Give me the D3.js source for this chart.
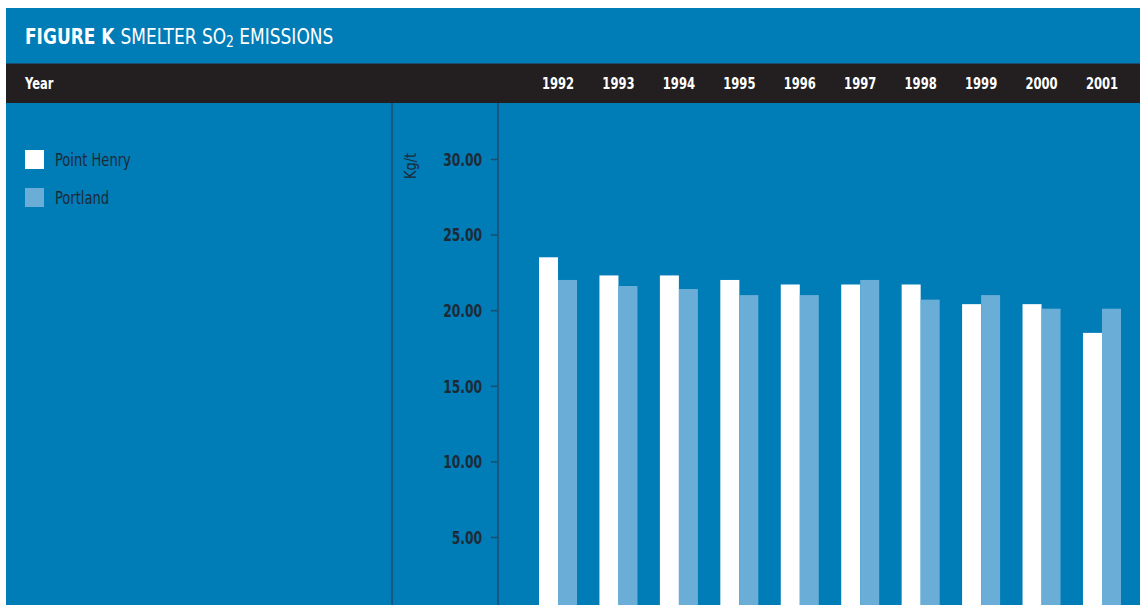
<!DOCTYPE html>
<html>
<head>
<meta charset="utf-8">
<script src="https://cdn.jsdelivr.net/npm/d3@7"></script>
<style>
  html, body { margin: 0; padding: 0; background: #ffffff; }
  svg { display: block; }
  text { font-family: "DejaVu Sans Condensed", "Liberation Sans Narrow", "Roboto", sans-serif; }
</style>
</head>
<body>
<svg id="chart" width="1140" height="605"></svg>
<script>
// Smelter SO2 emissions, kg per tonne of aluminium
const years = ["1992", "1993", "1994", "1995", "1996", "1997", "1998", "1999", "2000", "2001"];
const pointHenry = [23.5, 22.3, 22.3, 22.0, 21.7, 21.7, 21.7, 20.4, 20.4, 18.5];
const portland = [22.0, 21.6, 21.4, 21.0, 21.0, 22.0, 20.7, 21.0, 20.1, 20.1];
const seriesNames = ["Point Henry", "Portland"];
const yTicks = [5, 10, 15, 20, 25, 30];

const W = 1140, H = 605;
const colors = { bg: "#007cb7", head: "#231f20", ph: "#ffffff", pt: "#6aadd6", ink: "#1d2a36", rule: "#1b4d70" };

const svg = d3.select("#chart");

// place text at (px, py) and squeeze it horizontally to a condensed width
function placeNarrow(sel, px, py, s) {
  sel.attr("x", 0).attr("y", 0)
    .attr("transform", (d, i, n) => {
      const X = typeof px === "function" ? px(d, i, n) : px;
      const Y = typeof py === "function" ? py(d, i, n) : py;
      return `translate(${X},${Y}) scale(${s},1)`;
    });
  return sel;
}

// panel background
svg.append("rect").attr("x", 6).attr("y", 8).attr("width", W - 6).attr("height", H - 8).attr("fill", colors.bg);

// title
const title = svg.append("text").attr("fill", "#ffffff").attr("font-size", 22);
placeNarrow(title, 25, 44, 0.86);
title.append("tspan").attr("font-weight", "bold").text("FIGURE K ");
title.append("tspan").text("SMELTER SO");
title.append("tspan").attr("font-size", 16).attr("dy", 3).text("2");
title.append("tspan").attr("dy", -3).text(" EMISSIONS");

// year header band
svg.append("line").attr("x1", 6).attr("x2", W).attr("y1", 63.5).attr("y2", 63.5).attr("stroke", colors.rule).attr("stroke-width", 1);
svg.append("rect").attr("x", 6).attr("y", 64).attr("width", W - 6).attr("height", 39).attr("fill", colors.head);
placeNarrow(svg.append("text").attr("fill", "#ffffff").attr("font-size", 16).attr("font-weight", "bold").text("Year"), 25, 89, 0.8);

// scales
const x = d3.scaleBand().domain(years).range([527.8, 1132.2]).paddingInner(0.371).paddingOuter(0.1855);
const xs = d3.scaleBand().domain(seriesNames).range([0, x.bandwidth()]);
const y = d3.scaleLinear().domain([0, 30]).range([612.6, 159]);

// year labels inside the header band
const yearLabels = svg.append("g").selectAll("text").data(years).join("text")
  .attr("text-anchor", "middle")
  .attr("fill", "#ffffff")
  .attr("font-size", 15.5)
  .attr("font-weight", "bold")
  .text(d => d);
placeNarrow(yearLabels, d => x(d) + x.bandwidth() / 2, 89, 0.83);

// vertical rule between legend and axis
svg.append("line").attr("x1", 392).attr("x2", 392).attr("y1", 103).attr("y2", H).attr("stroke", colors.rule).attr("stroke-width", 1.5);

// y axis
const yAxis = d3.axisLeft(y).tickValues(yTicks).tickFormat(d3.format(".2f")).tickSize(7).tickPadding(8);
const gy = svg.append("g").attr("transform", "translate(498,0)").call(yAxis);
gy.select(".domain").remove();
gy.selectAll(".tick line").attr("stroke", colors.rule).attr("stroke-width", 1.5);
gy.selectAll(".tick text").attr("fill", colors.ink).attr("font-size", 17.5).attr("font-weight", "bold")
  .attr("font-family", "'DejaVu Sans Condensed', sans-serif")
  .attr("dy", "0.36em")
  .attr("x", 0)
  .attr("transform", "translate(-16,0) scale(0.78,1)");
svg.append("line").attr("x1", 498).attr("x2", 498).attr("y1", 103).attr("y2", H).attr("stroke", colors.rule).attr("stroke-width", 1.5);

// unit label
svg.append("text").attr("transform", "translate(416,166) rotate(-90) scale(0.9,1)").attr("text-anchor", "middle")
  .attr("fill", colors.ink).attr("font-size", 16).text("Kg/t");

// bars
const rows = years.map((yr, i) => ({ year: yr, values: [pointHenry[i], portland[i]] }));
const fills = [colors.ph, colors.pt];
svg.append("g").selectAll("g").data(rows).join("g")
  .attr("transform", d => `translate(${x(d.year)},0)`)
  .selectAll("rect").data(d => d.values.map((v, j) => ({ name: seriesNames[j], v, j })))
  .join("rect")
  .attr("x", d => xs(d.name))
  .attr("width", xs.bandwidth())
  .attr("y", d => y(d.v))
  .attr("height", d => y(0) - y(d.v))
  .attr("fill", d => fills[d.j]);

// legend
const legend = svg.append("g").selectAll("g").data(seriesNames).join("g")
  .attr("transform", (d, i) => `translate(25,${150 + i * 38})`);
legend.append("rect").attr("width", 19).attr("height", 19).attr("fill", (d, i) => fills[i]);
placeNarrow(legend.append("text").attr("fill", colors.ink).attr("font-size", 17.5).text(d => d), 30, 16, 0.83);
</script>
</body>
</html>
